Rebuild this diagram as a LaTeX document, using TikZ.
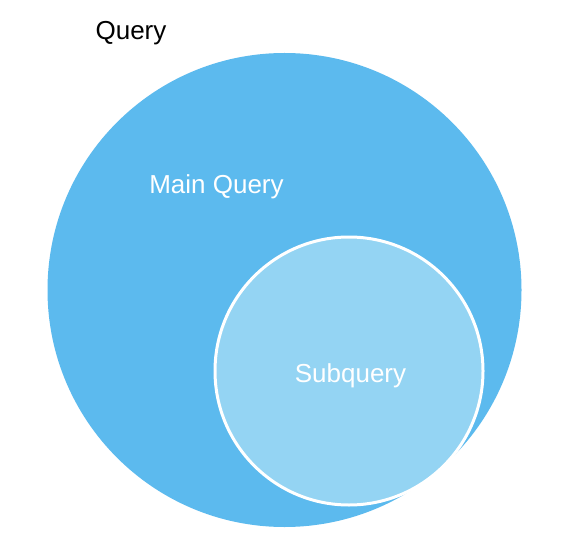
\documentclass[tikz,border=0pt]{standalone}
\usepackage{fontspec}
\setmainfont{Liberation Sans}
\definecolor{bigblue}{HTML}{5CBAEE}
\definecolor{smallblue}{HTML}{94D4F3}
\tikzset{
  lbl/.style={font=\fontsize{26}{30}\selectfont, inner sep=0pt},
}
\begin{document}
\begin{tikzpicture}[x=1pt,y=-1pt]
\useasboundingbox[fill=white] (0,0) rectangle (570,540);
\node[circle, fill=bigblue, minimum size=474, inner sep=0pt] (main) at (284.5,290) {};
\node[circle, fill=smallblue, draw=white, line width=3, minimum size=268, inner sep=0pt] (sub) at (349,371) {};
\node[lbl, text=black] (q) at (131,33.5) {Query};
\node[lbl, text=white] (mq) at (216.5,186.5) {Main Query};
\node[lbl, text=white] (sq) at (350.5,376) {Subquery};
\end{tikzpicture}
\end{document}
